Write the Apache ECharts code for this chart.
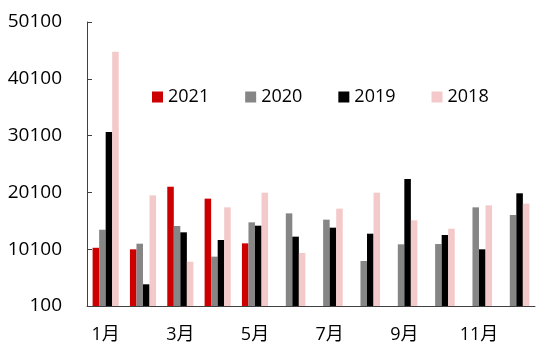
<!DOCTYPE html>
<html lang="zh">
<head>
    <meta charset="UTF-8">
    <title>月度对比</title>
    <script src="https://cdn.jsdelivr.net/npm/echarts@6/dist/echarts.min.js"></script>
    <style>
        html, body { margin: 0; padding: 0; background: #fff; }
    </style>
</head>
<body>
    <div id="ec" style="width:550px;height:354px"></div>
<script>
    var months = ['1月', '2月', '3月', '4月', '5月', '6月', '7月', '8月', '9月', '10月', '11月', '12月']
    var yearNames = ['2021', '2020', '2019', '2018']
    var y2021 = [10350, 10080, 21100, 19000, 11130, null, null, null, null, null, null, null]
    var y2020 = [13530, 11070, 14180, 8790, 14830, 16410, 15300, 8020, 10960, 11010, 17470, 16120]
    var y2019 = [30730, 3920, 13070, 11720, 14240, 12310, 13890, 12830, 22460, 12600, 10080, 19940]
    var y2018 = [44870, 19580, 7900, 17470, 20050, 9430, 17240, 20050, 15180, 13710, 17820, 18120]
    var colors = ['#cc0000', '#868686', '#000000', '#f4c9c9']

    var chart = echarts.init(document.getElementById('ec'))
    var font = "'Open Sans', 'Noto Sans CJK SC', sans-serif"

    function bar(name, data, color) {
        return {
            name: name,
            type: 'bar',
            data: data,
            barGap: '0%',
            barCategoryGap: '30%',
            itemStyle: { color: color }
        }
    }

    chart.setOption({
        animation: false,
        color: colors,
        legend: {
            left: 147,
            top: 83,
            itemWidth: 11,
            itemHeight: 11,
            itemGap: 36,
            icon: 'rect',
            textStyle: { fontSize: 18, color: '#000', fontFamily: font },
            data: yearNames
        },
        grid: { left: 87, right: 15, top: 22, bottom: 48 },
        xAxis: {
            type: 'category',
            data: months,
            axisLine: { lineStyle: { color: '#404040', width: 1 } },
            axisTick: { inside: true, length: 5, lineStyle: { color: '#404040' } },
            axisLabel: { interval: 1, margin: 20, fontSize: 18, color: '#000', fontFamily: font }
        },
        yAxis: {
            type: 'value',
            min: 100,
            max: 50100,
            interval: 10000,
            splitLine: { show: false },
            axisLine: { show: true, lineStyle: { color: '#404040', width: 1 } },
            axisTick: { show: true, inside: true, length: 5, lineStyle: { color: '#404040' } },
            axisLabel: {
                margin: 25,
                fontSize: 19,
                color: '#000',
                fontFamily: font,
                formatter: function (v) { return String(v) }
            }
        },
        series: [
            bar(yearNames[0], y2021, colors[0]),
            bar(yearNames[1], y2020, colors[1]),
            bar(yearNames[2], y2019, colors[2]),
            bar(yearNames[3], y2018, colors[3])
        ]
    })
</script>
</body>
</html>
